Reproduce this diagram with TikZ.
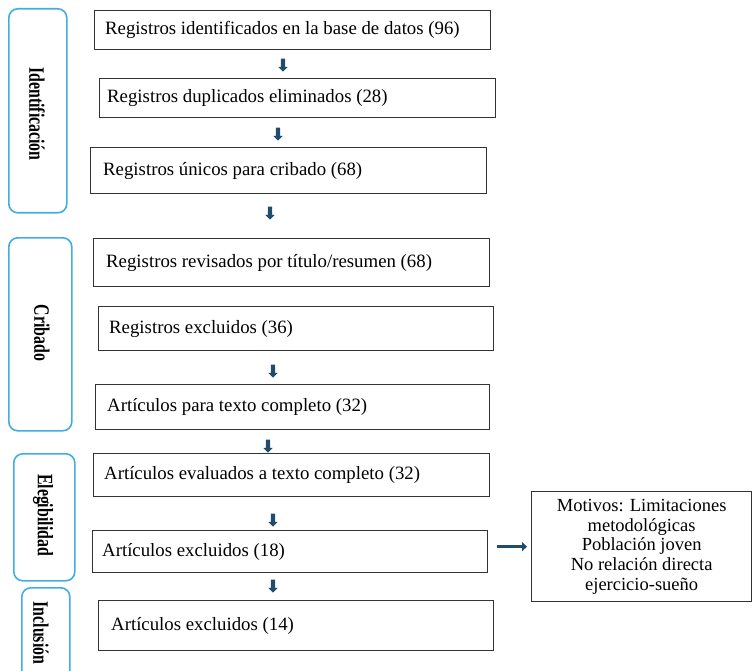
\documentclass[tikz,border=0pt]{standalone}
\usepackage{fontspec}
\setmainfont{Liberation Serif}
\newfontfamily\lblfont[FakeStretch=0.72]{Liberation Serif}
\usetikzlibrary{shapes.arrows,arrows.meta}
\definecolor{sidecol}{HTML}{41AEE2}
\definecolor{arrcol}{HTML}{1F4D6B}
\definecolor{boxcol}{HTML}{333333}
\tikzset{
  box/.style={draw=boxcol, line width=1.3pt, fill=white, inner sep=0pt, anchor=north west},
  boxtext/.style={anchor=west, inner sep=0pt, font=\fontsize{18.8}{20}\selectfont},
  sidebar/.style={draw=sidecol, line width=1.6pt, rounded corners=9pt, fill=white,
    anchor=north west, inner sep=0pt},
  sidelabel/.style={rotate=-90, font=\lblfont\bfseries\fontsize{22}{24}\selectfont, inner sep=0pt},
  darr/.style={single arrow, fill=arrcol, draw=none, rotate=-90, minimum height=13pt,
    inner sep=2pt, single arrow head extend=2.5pt},
  reason/.style={draw=boxcol, line width=1.3pt, fill=white, align=center,
    font=\fontsize{18.5}{19.8}\selectfont, anchor=north west, inner sep=0pt},
}
% \pbox{name}{x1}{y1}{x2}{y2}{text}{inset}
\newcommand\pbox[7]{%
  \pgfmathsetmacro\bw{#4-#2}%
  \pgfmathsetmacro\bh{#5-#3}%
  \node[box, minimum width=\bw pt, minimum height=\bh pt] (#1) at (#2,#3) {};
  \node[boxtext] (#1t) at ([xshift=#7pt]#1.west) {#6};}
\begin{document}
\begin{tikzpicture}[x=1pt,y=-1pt]
\useasboundingbox (0,0) rectangle (752,671);
% sidebars
\node[sidebar, minimum width=58pt, minimum height=204pt] (sid) at (8,8) {};
\node[sidelabel] (lid) at (37,114) {Identificación};
\node[sidebar, minimum width=63pt, minimum height=193pt] (scr) at (8,237) {};
\node[sidelabel] (lcr) at (42,333) {Cribado};
\node[sidebar, minimum width=61pt, minimum height=127pt] (sel) at (13,453) {};
\node[sidelabel] (lel) at (43,515) {Elegibilidad};
\node[sidebar, minimum width=48pt, minimum height=100pt] (sin) at (21,587) {};
\node[sidelabel] (lin) at (41,633) {Inclusión};
% boxes
\pbox{b1}{94}{10}{490}{49}{Registros identificados en la base de datos (96)}{11}
\pbox{b2}{99}{78}{495}{117}{Registros duplicados eliminados (28)}{8}
\pbox{b3}{90}{147}{486}{193}{Registros únicos para cribado (68)}{13}
\pbox{b4}{93}{238}{489}{286}{Registros revisados por título/resumen (68)}{13}
\pbox{b5}{98}{306}{493}{350}{Registros excluidos (36)}{11}
\pbox{b6}{95}{384}{489}{429}{Artículos para texto completo (32)}{12}
\pbox{b7}{93}{453}{489}{496}{Artículos evaluados a texto completo (32)}{11}
\pbox{b8}{92}{530}{487}{572}{Artículos excluidos (18)}{10}
\pbox{b9}{98}{600}{493}{650}{Artículos excluidos (14)}{13}
% down arrows
\node[darr] (a1) at (283,64) {};
\node[darr] (a2) at (278,133) {};
\node[darr] (a3) at (270,212) {};
\node[darr] (a4) at (273,370) {};
\node[darr] (a5) at (268,445) {};
\node[darr] (a6) at (273,519) {};
\node[darr] (a7) at (273,585) {};
% reasons box
\node[reason, minimum width=220pt, minimum height=110pt] (rs) at (531,491)
  {Motivos: Limitaciones\\metodológicas\\Población joven\\No relación directa\\ejercicio-sueño};
\draw[arrcol, line width=3.5pt, -{Triangle[length=5pt,width=9pt]}, shorten <=9pt, shorten >=4pt]
  (b8.east |- rs.west) -- (rs.west);
\end{tikzpicture}
\end{document}
